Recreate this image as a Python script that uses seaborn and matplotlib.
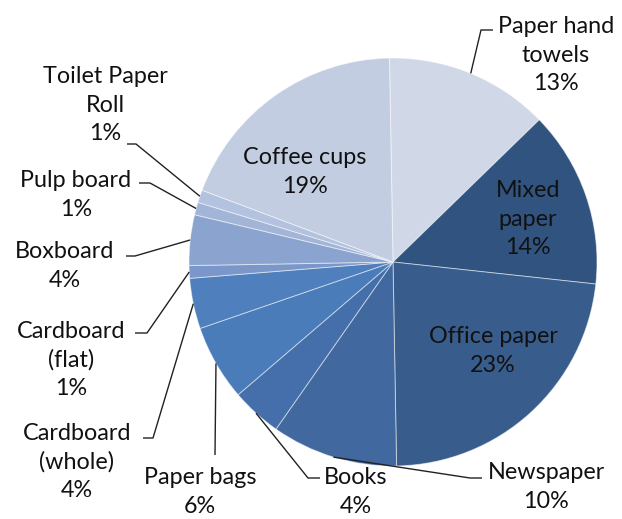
import matplotlib
matplotlib.use("Agg")
import matplotlib.pyplot as plt
import seaborn as sns
import numpy as np

# Paper waste composition, listed clockwise from the top
categories = ["Paper hand\ntowels", "Mixed\npaper", "Office paper", "Newspaper",
              "Books", "Paper bags", "Cardboard\n(whole)", "Cardboard\n(flat)",
              "Boxboard", "Pulp board", "Toilet Paper\nRoll", "Coffee cups"]
shares = [13, 14, 23, 10, 4, 6, 4, 1, 4, 1, 1, 19]
colors = ["#d0d8e7", "#30547f", "#385d8c", "#41699f", "#456faa", "#4a7cb9",
          "#4f80bd", "#7b97c9", "#8ba4cf", "#a3b5d7", "#b3c2de", "#c3cde2"]

sns.set_theme(style="white")
plt.rcParams["font.family"] = ["Lato", "DejaVu Sans"]

W, H = 622, 519
fig = plt.figure(figsize=(W / 100, H / 100), dpi=100)
ax = fig.add_axes([0, 0, 1, 1])


def P(x, y):
    """Pixel position measured from the top-left corner -> data coords."""
    return x, H - y


cx, cy = P(393, 262)
R = 204
wedges, _ = ax.pie(shares, colors=colors, startangle=91, counterclock=False,
                   center=(cx, cy), radius=R,
                   wedgeprops=dict(edgecolor=(1, 1, 1, 0.5), linewidth=0.7))
ax.set_xlim(0, W)
ax.set_ylim(0, H)
ax.set_aspect("equal")
ax.axis("off")

FS = 16.8
TXT = "#111111"

# label centre, and the outer end of a leader line (None = label sits inside)
layout = {
    "Paper hand\ntowels": ((556, 55), [(493, 30), (481, 30)]),
    "Mixed\npaper": ((528, 219), None),
    "Office paper": ((493, 351), None),
    "Newspaper": ((546, 487), [(482, 478), (470, 478)]),
    "Books": ((356, 492), [(320, 478), (308, 478)]),
    "Paper bags": ((200, 492), [(215, 455)]),
    "Cardboard\n(whole)": ((77, 462), [(143, 438), (153, 438)]),
    "Cardboard\n(flat)": ((71, 360), [(135, 333), (147, 333)]),
    "Boxboard": ((65, 266), [(126, 256), (135, 256)]),
    "Pulp board": ((76, 195), [(139, 183), (150, 183)]),
    "Toilet Paper\nRoll": ((105, 105), [(127, 144), (136, 144)]),
    "Coffee cups": ((305, 172), None),
}

for w, cat, val in zip(wedges, categories, shares):
    (lx, ly), stub = layout[cat]
    ax.text(*P(lx, ly), f"{cat}\n{val}%", ha="center", va="center",
            fontsize=FS, color=TXT, linespacing=1.42)
    if stub is None:
        continue
    mid = np.deg2rad((w.theta1 + w.theta2) / 2)
    ex, ey = cx + R * np.cos(mid), cy + R * np.sin(mid)
    pts = [P(x, y) for x, y in stub] + [(ex, ey)]
    xs, ys = zip(*pts)
    ax.plot(xs, ys, color="#222222", lw=1.0, solid_capstyle="butt")

fig.savefig("out.png", dpi=100, facecolor="white")
